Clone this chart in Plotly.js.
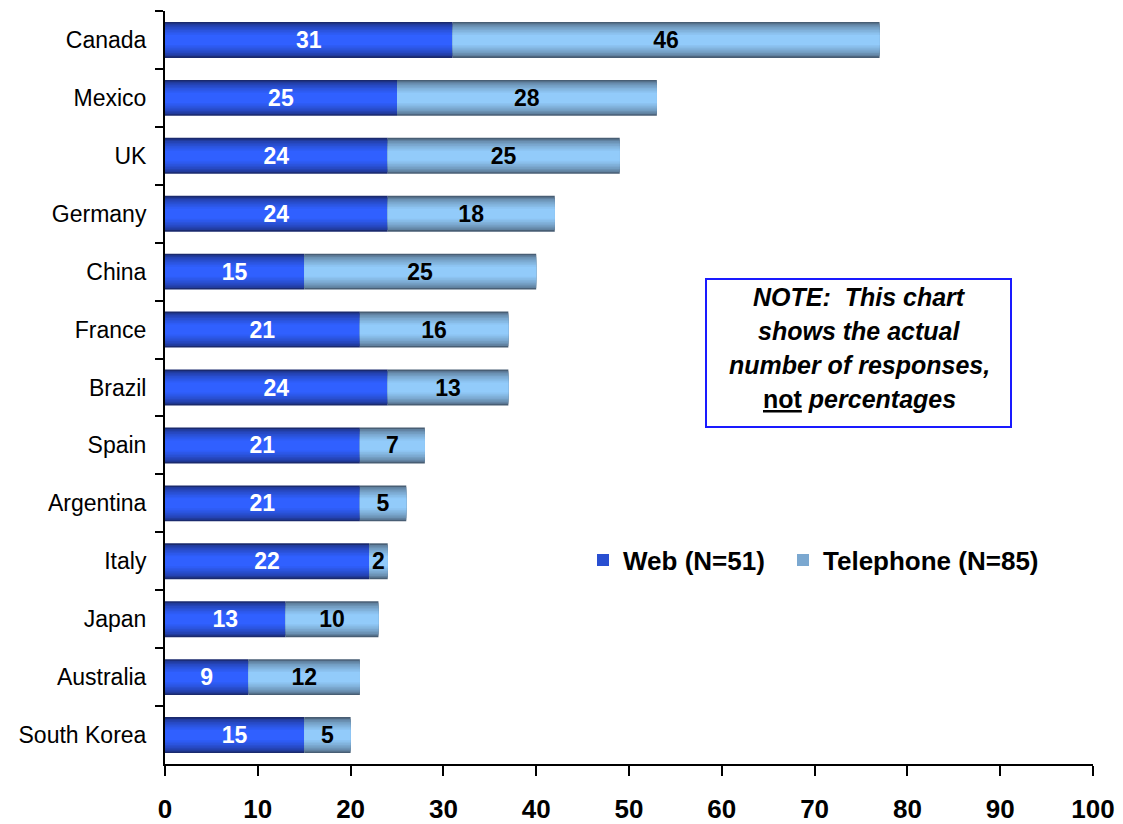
<!DOCTYPE html>
<html>
<head>
<meta charset="utf-8">
<script src="https://cdn.plot.ly/plotly-3.0.1.min.js"></script>
<style>html,body{margin:0;padding:0;background:#fff;}#chart{width:1123px;height:824px;}</style>
</head>
<body>
<div id="chart"></div>
<script>
const countries = ["Canada","Mexico","UK","Germany","China","France","Brazil","Spain","Argentina","Italy","Japan","Australia","South Korea"];
const webValues = [31,25,24,24,15,21,24,21,21,22,13,9,15];
const telValues = [46,28,25,18,25,16,13,7,5,2,10,12,5];
const seriesNames = ["Web (N=51)","Telephone (N=85)"];
const xTicks = [0,10,20,30,40,50,60,70,80,90,100];
const noteLines = ["<b><i>NOTE:  This chart</i></b>","<b><i>shows the actual</i></b>","<b><i>number of responses,</i></b>","<b><u>not</u> <i>percentages</i></b>"];

const FONT = "Liberation Sans, Arial, sans-serif";
const fullW = 0.62;
const NL = 9;
// gradient endpoints (edge -> center)
const webEdge = [26,42,110], webCenter = [48,96,255];
const telEdge = [72,94,116], telCenter = [146,203,250];
function mix(a, b, t) {
  const c = a.map((v, i) => Math.round(v + (b[i] - v) * t));
  return 'rgb(' + c.join(',') + ')';
}

const traces = [];
function addSeries(vals, base, edge, center, name, legendId) {
  for (let i = 0; i < NL; i++) {
    const t = i / (NL - 1);
    const s = 1 - 0.72 * t;
    const ct = Math.pow(t, 0.55);
    traces.push({
      type: 'bar', orientation: 'h',
      y: countries, x: vals, base: base,
      width: fullW * s,
      marker: {color: mix(edge, center, ct), line: {width: 0}},
      name: name,
      legend: legendId,
      showlegend: i === Math.floor(NL / 2),
      hoverinfo: 'skip'
    });
  }
}
const zeros = countries.map(() => 0);
addSeries(webValues, zeros, webEdge, webCenter, seriesNames[0], 'legend');
addSeries(telValues, webValues, telEdge, telCenter, seriesNames[1], 'legend2');

// value labels
traces.push({
  type: 'bar', orientation: 'h', y: countries, x: webValues, base: zeros,
  width: fullW, marker: {color: 'rgba(0,0,0,0)'}, showlegend: false, hoverinfo: 'skip',
  text: webValues.map(String), textposition: 'inside', insidetextanchor: 'middle',
  constraintext: 'none', textangle: 0,
  textfont: {family: FONT, size: 23, color: '#ffffff', weight: 'bold'}
});
traces.push({
  type: 'bar', orientation: 'h', y: countries, x: telValues, base: webValues,
  width: fullW, marker: {color: 'rgba(0,0,0,0)'}, showlegend: false, hoverinfo: 'skip',
  text: telValues.map(String), textposition: 'inside', insidetextanchor: 'middle',
  constraintext: 'none', textangle: 0,
  textfont: {family: FONT, size: 23, color: '#000000', weight: 'bold'}
});

const plotL = 165, plotR = 1093, plotT = 11, plotB = 764;
const px = v => (v - plotL) / (plotR - plotL);
const py = v => (plotB - v) / (plotB - plotT);

const noteY = [297, 331, 365, 399];
const annotations = noteLines.map((t, i) => ({
  xref: 'paper', yref: 'paper', x: px(859), y: py(noteY[i]),
  xanchor: 'center', yanchor: 'middle', showarrow: false, text: t,
  font: {family: FONT, size: 25, color: '#000'}
}));

const legendFont = {family: FONT, size: 26, color: '#000', weight: 'bold'};
const layout = {
  width: 1123, height: 824,
  margin: {l: plotL, r: 1123 - plotR, t: plotT, b: 824 - plotB},
  paper_bgcolor: '#fff', plot_bgcolor: '#fff',
  barmode: 'overlay',
  font: {family: FONT, color: '#000'},
  xaxis: {
    range: [0, 100], tickvals: xTicks, ticktext: xTicks.map(String),
    showgrid: false, zeroline: false, showline: true, linecolor: '#000', linewidth: 2,
    ticks: 'outside', ticklen: 10, tickwidth: 2, tickcolor: '#000',
    ticklabelstandoff: 11,
    tickfont: {family: FONT, size: 26, color: '#000', weight: 'bold'}, fixedrange: true
  },
  yaxis: {
    type: 'category', autorange: 'reversed',
    showgrid: false, zeroline: false, showline: true, linecolor: '#000', linewidth: 2,
    ticks: 'outside', ticklen: 8, tickwidth: 2, tickcolor: '#000', tickson: 'boundaries',
    ticklabelstandoff: 12,
    tickfont: {family: FONT, size: 23, color: '#000'}, fixedrange: true
  },
  showlegend: true,
  legend: {
    orientation: 'h', x: px(583), y: py(560), xanchor: 'left', yanchor: 'middle',
    font: legendFont, bgcolor: 'rgba(0,0,0,0)'
  },
  legend2: {
    orientation: 'h', x: px(783), y: py(560), xanchor: 'left', yanchor: 'middle',
    font: legendFont, bgcolor: 'rgba(0,0,0,0)'
  },
  shapes: [{
    type: 'rect', xref: 'paper', yref: 'paper',
    x0: px(706), x1: px(1011), y0: py(427), y1: py(279),
    line: {color: '#1a1aff', width: 2}, fillcolor: 'rgba(0,0,0,0)'
  }],
  annotations: annotations
};

Plotly.newPlot('chart', traces, layout, {displayModeBar: false, staticPlot: true});
</script>
</body>
</html>
